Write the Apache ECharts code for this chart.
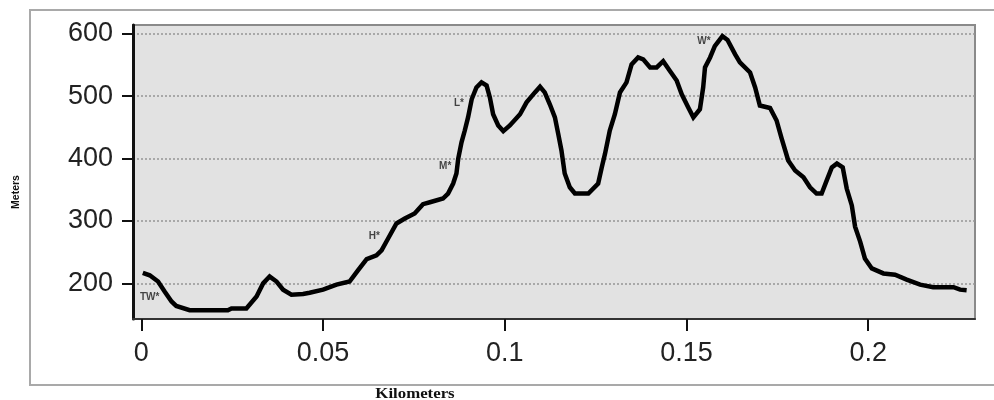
<!DOCTYPE html>
<html>
<head>
<meta charset="utf-8">
<script src="https://cdn.jsdelivr.net/npm/echarts@6/dist/echarts.min.js"></script>
<style>html,body{margin:0;padding:0;background:#fff;}#c{width:994px;height:400px;}</style>
</head>
<body>
<div id="c"></div>
<script>
// Distance along profile (km)
const distKm = [0.0004,0.0023,0.0046,0.0064,0.0083,0.0096,0.0133,0.0188,0.0238,0.0248,0.0289,0.0317,0.0335,0.0353,0.0372,0.039,0.0413,0.0445,0.0463,0.05,0.0537,0.0573,0.0596,0.062,0.0647,0.0661,0.0679,0.0702,0.0725,0.0752,0.0775,0.0794,0.083,0.0844,0.0858,0.0867,0.0872,0.0881,0.089,0.0899,0.0909,0.0922,0.0936,0.095,0.0959,0.0968,0.0982,0.0996,0.1014,0.1042,0.106,0.1083,0.1097,0.111,0.1124,0.1138,0.1147,0.1156,0.1165,0.1179,0.1193,0.123,0.1257,0.1267,0.1276,0.1289,0.1303,0.1317,0.1335,0.1349,0.1367,0.1381,0.14,0.1418,0.1436,0.1455,0.1473,0.1487,0.1505,0.1519,0.1537,0.1546,0.1551,0.1565,0.1578,0.1599,0.1613,0.1634,0.1647,0.1675,0.1689,0.1702,0.173,0.1748,0.1762,0.178,0.1799,0.1822,0.184,0.1858,0.1872,0.1886,0.19,0.1914,0.193,0.1941,0.1955,0.1964,0.1978,0.1991,0.201,0.2042,0.2074,0.2106,0.2143,0.2179,0.2235,0.2253,0.2271];
// Elevation (m)
const elevM = [217,213,203,187,171,164,157,157,157,160,160,179,200,211,203,190,182,183,185,190,198,203,221,239,245,253,272,296,304,312,327,330,336,344,360,376,400,426,445,466,495,514,522,517,498,471,453,444,453,471,490,506,515,506,487,466,440,413,376,354,344,344,360,386,408,445,471,506,522,551,562,559,546,546,556,540,525,503,482,466,479,514,546,562,580,596,590,567,554,538,514,485,481,461,432,397,381,370,354,344,344,365,386,392,386,352,325,291,267,240,224,216,214,206,198,194,194,190,189];
// Point annotations
const annotText = ['TW*','H*','M*','L*','W*'];
const annotX = [0.0023,0.0641,0.0836,0.0874,0.1548];
const annotY = [178,276,387,488,588];
// Ticks
const xTicks = [0,0.05,0.1,0.15,0.2];
const yTicks = [200,300,400,500,600];

const chart = echarts.init(document.getElementById('c'));
chart.setOption({
  animation: false,
  backgroundColor: '#ffffff',
  graphic: [
    { type: 'rect', z: -10, shape: { x: 30, y: 10, width: 980, height: 375 },
      style: { fill: '#ffffff', stroke: '#a9a9a9', lineWidth: 2 } },
    { type: 'text', x: 16, y: 192, rotation: Math.PI / 2,
      style: { text: 'Meters', align: 'center', verticalAlign: 'middle',
        font: 'bold 10.5px "Liberation Sans", Arial, sans-serif', fill: '#111' } },
    { type: 'text', x: 415, y: 394, scaleX: 1.2,
      style: { text: 'Kilometers', align: 'center', verticalAlign: 'middle',
        font: 'bold 14px "Liberation Serif", "Times New Roman", serif', fill: '#111' } }
  ],
  grid: {
    left: 133, top: 25, right: 19, bottom: 81,
    show: true, backgroundColor: '#e2e2e2', borderColor: '#8a8a8a', borderWidth: 2
  },
  xAxis: {
    type: 'value', min: -0.0023, max: 0.2294,
    axisLine: { show: true, onZero: false, lineStyle: { color: '#333', width: 2 } },
    axisTick: { show: true, length: 12, lineStyle: { color: '#111', width: 2 }, customValues: xTicks },
    axisLabel: { customValues: xTicks, margin: 21, fontSize: 27, color: '#222',
      fontFamily: '"Liberation Sans", Arial, sans-serif', formatter: v => String(v) },
    splitLine: { show: false }
  },
  yAxis: {
    type: 'value', min: 143, max: 614,
    axisLine: { show: true, onZero: false, lineStyle: { color: '#111', width: 3 } },
    axisTick: { show: true, length: 11, lineStyle: { color: '#111', width: 2 }, customValues: yTicks },
    axisLabel: { customValues: yTicks, margin: 20, fontSize: 27, color: '#222',
      fontFamily: '"Liberation Sans", Arial, sans-serif' },
    splitLine: { show: true, lineStyle: { color: '#959595', width: 1.5, type: [2, 2] } }
  },
  series: [
    {
      type: 'line',
      data: distKm.map((x, i) => [x, elevM[i]]),
      showSymbol: false, symbol: 'none',
      lineStyle: { color: '#000', width: 4.5, join: 'miter' },
      z: 3
    },
    {
      type: 'scatter',
      data: annotX.map((x, i) => [x, annotY[i], annotText[i]]),
      symbolSize: 1,
      itemStyle: { color: 'rgba(0,0,0,0)' },
      label: { show: true, position: 'inside', formatter: p => p.data[2],
        fontSize: 10, fontWeight: 'bold', fontFamily: '"Liberation Sans", Arial, sans-serif', color: '#1a1a1a' },
      z: 4
    }
  ]
});
</script>
</body>
</html>
